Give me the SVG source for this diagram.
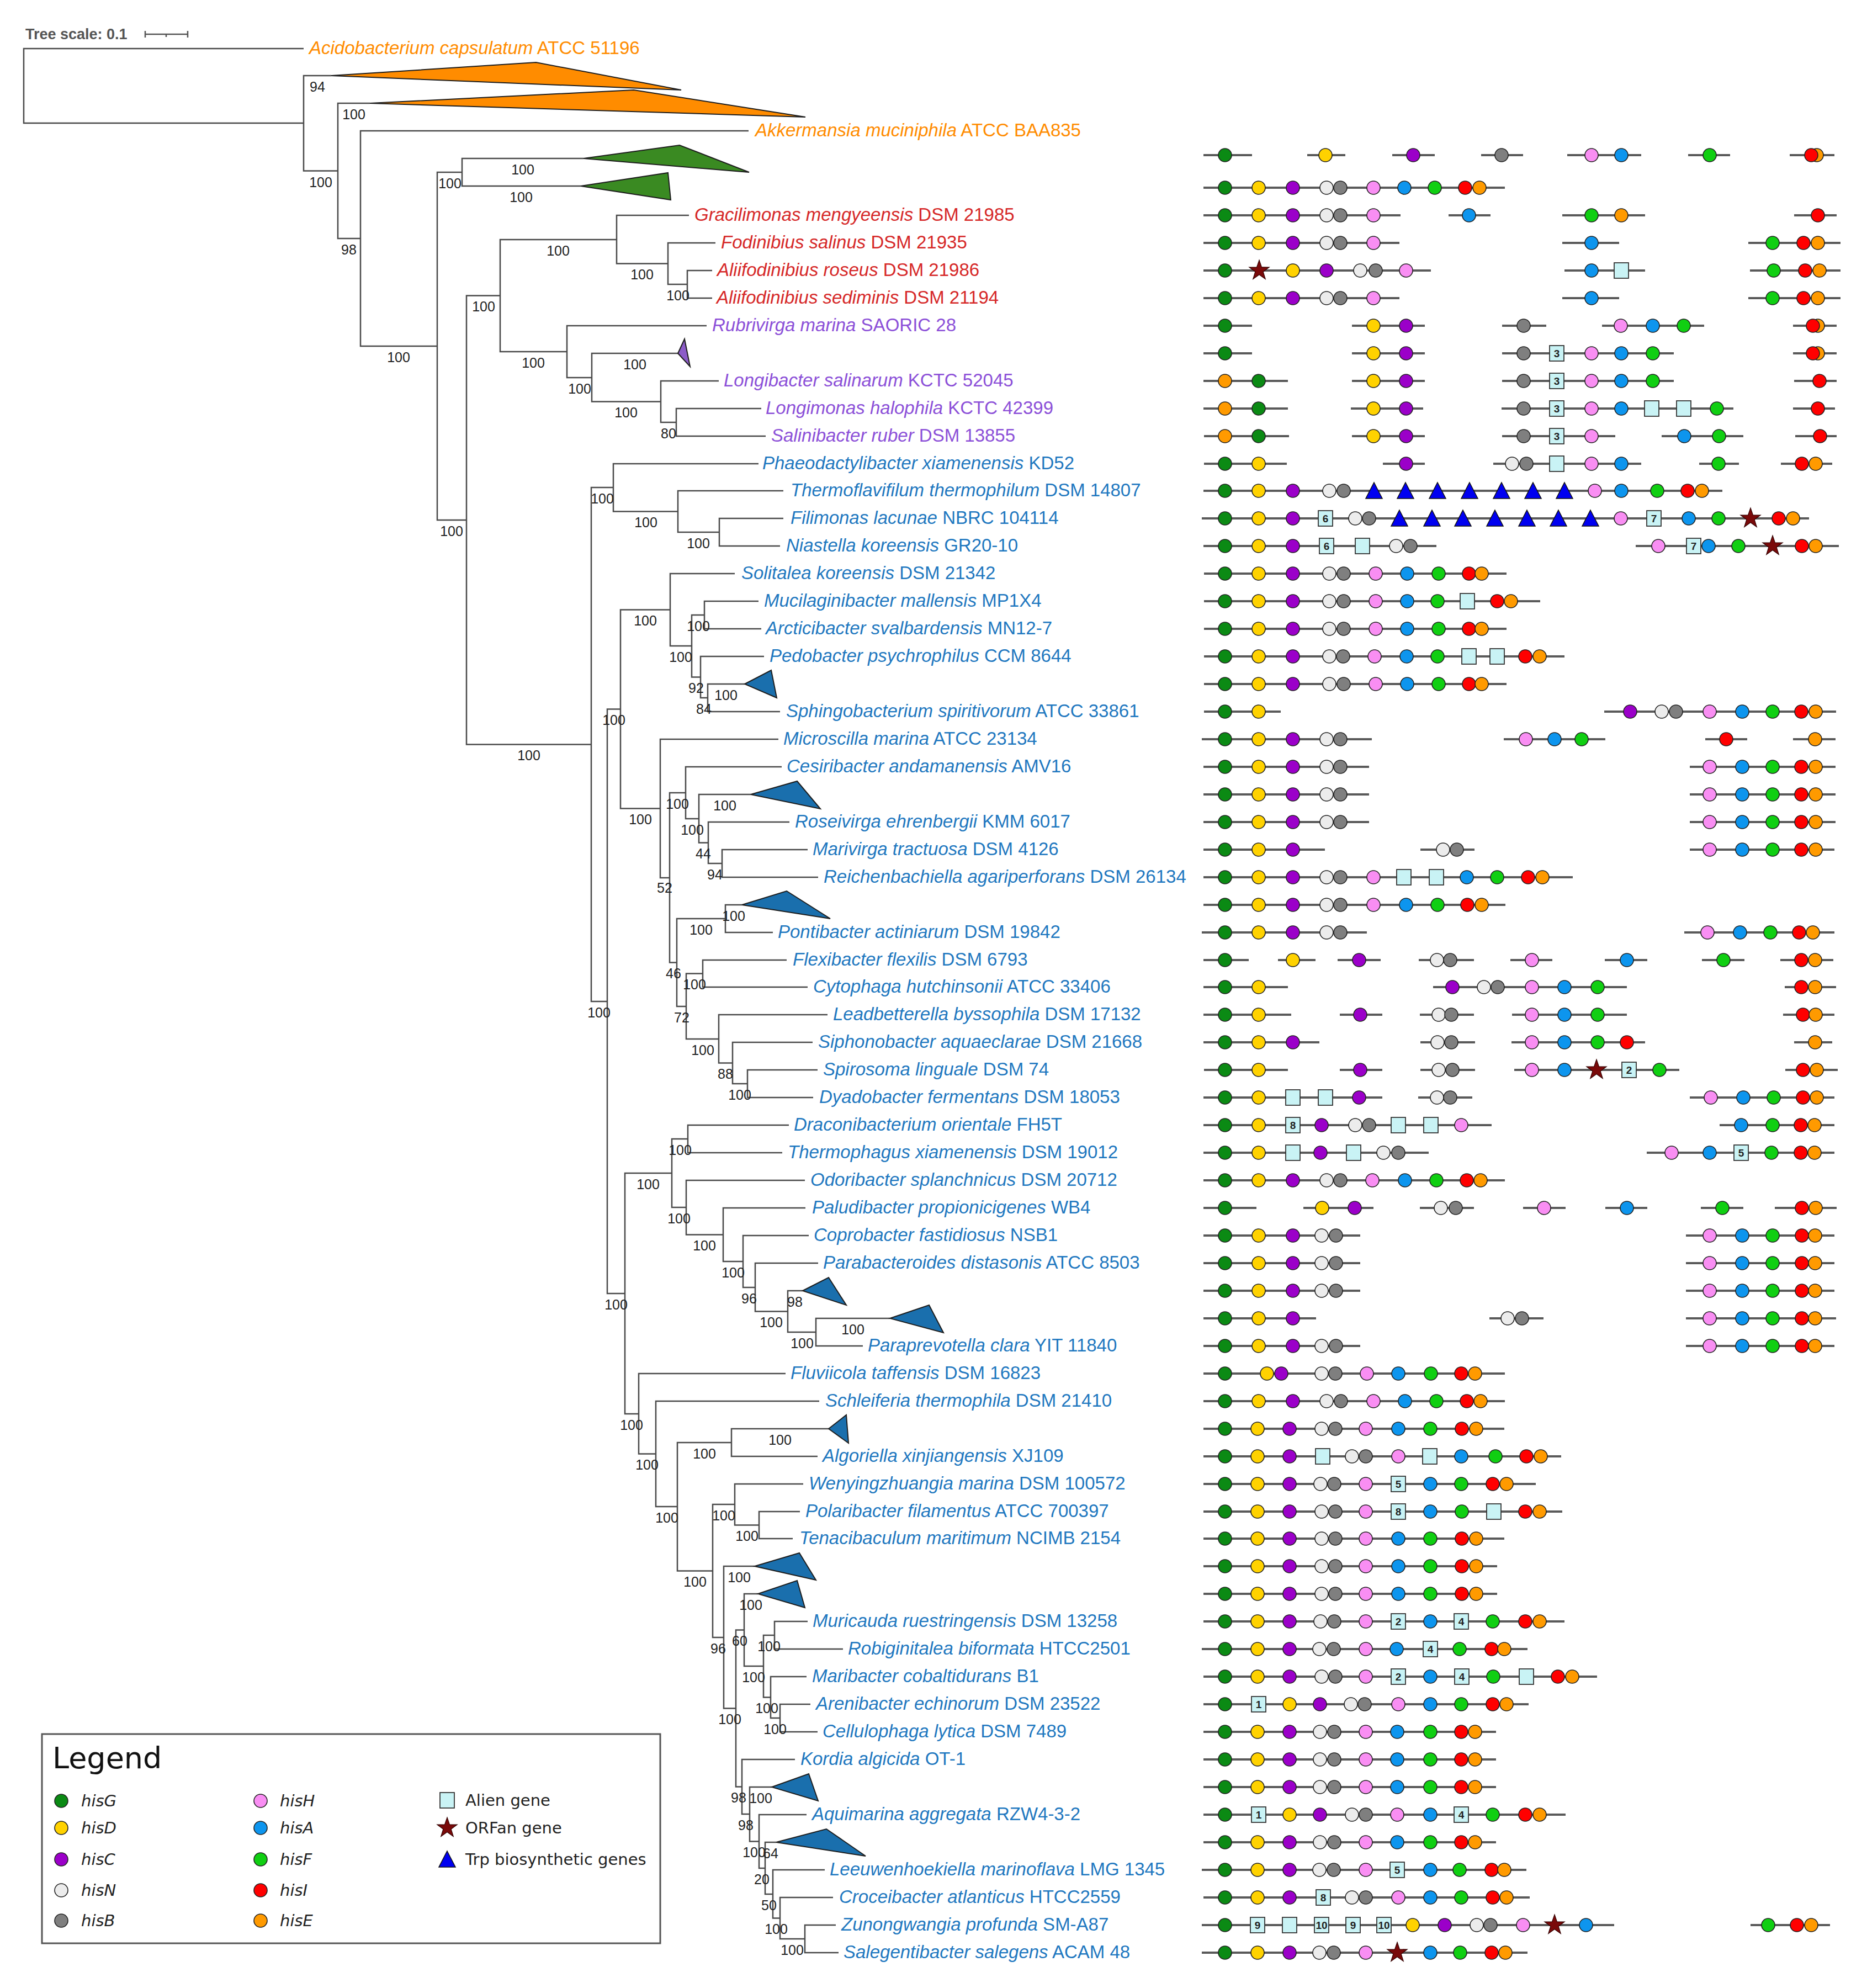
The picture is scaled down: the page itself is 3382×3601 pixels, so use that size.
<svg xmlns="http://www.w3.org/2000/svg" xmlns:xlink="http://www.w3.org/1999/xlink" width="3382" height="3601" viewBox="0 0 3382 3601">
<style>
.tr{fill:none;stroke:#4a4a4a;stroke-width:2.5}
.bs{font-family:"Liberation Sans",Arial,sans-serif;font-size:25px;fill:#222;text-anchor:middle}
.lb{font-family:"Liberation Sans",Arial,sans-serif;font-size:33px}
.i{font-style:italic}
.or{fill:#ff8c00}.rd{fill:#d62828}.pu{fill:#8c50d8}.bl{fill:#1f78c0}
.cl{stroke:#1e1e1e;stroke-width:2}
.ln{fill:none;stroke:#5a5a5a;stroke-width:4}
.n{font-family:"Liberation Sans",Arial,sans-serif;font-size:19px;font-weight:bold;fill:#222;text-anchor:middle}
.lg{font-family:"DejaVu Sans",sans-serif;font-size:29px;fill:#222}
</style>
<defs>
<circle id="G" r="12" fill="#0b8a14" stroke="#222" stroke-width="1.6"/>
<circle id="D" r="12" fill="#ffd200" stroke="#222" stroke-width="1.6"/>
<circle id="C" r="12" fill="#9b00c9" stroke="#222" stroke-width="1.6"/>
<circle id="N" r="12" fill="#ececec" stroke="#222" stroke-width="1.6"/>
<circle id="B" r="12" fill="#7f7f7f" stroke="#222" stroke-width="1.6"/>
<circle id="H" r="12" fill="#f98ef3" stroke="#222" stroke-width="1.6"/>
<circle id="A" r="12" fill="#0d95ee" stroke="#222" stroke-width="1.6"/>
<circle id="F" r="12" fill="#10cf12" stroke="#222" stroke-width="1.6"/>
<circle id="I" r="12" fill="#ff0000" stroke="#222" stroke-width="1.6"/>
<circle id="E" r="12" fill="#ff9a00" stroke="#222" stroke-width="1.6"/>
<rect id="S" x="-13" y="-14" width="26" height="28" fill="#c9f3f5" stroke="#333" stroke-width="1.8"/>
<polygon id="T" points="0,-15 15,14 -15,14" fill="#0000f0" stroke="#111" stroke-width="1.5"/>
<polygon id="R" points="0,-19 4.4,-6.1 18.1,-5.9 7.1,2.3 11.2,15.4 0,7.5 -11.2,15.4 -7.1,2.3 -18.1,-5.9 -4.4,-6.1" fill="#7a0a0a" stroke="#300" stroke-width="1.2"/>
</defs>
<rect width="3382" height="3601" fill="#fff"/>

<g id="tree-scale">
<text x="46" y="71" font-family="Liberation Sans, Arial, sans-serif" font-size="27" font-weight="bold" fill="#555">Tree scale: 0.1</text>
<path d="M263 62H340M263 56V68M340 56V68M301 62V67" stroke="#555" stroke-width="2.5" fill="none"/>
</g>

<g id="connectors" class="tr">
<path d="M550 88H43V223H550"/>
<path d="M600 137H550V309.5H612"/>
<path d="M670 187H612V432H653"/>
<path d="M1356 237H653V627H792"/>
<path d="M837 312H792V942H845"/>
<path d="M1057 287H837V337H1052"/>
<path d="M906 535.5H845V1348.5H1071"/>
<path d="M1117 434H906V637H1027"/>
<path d="M1248 390H1117V477.5H1210"/>
<path d="M1296 440H1210V515H1245"/>
<path d="M1290 490H1245V540H1290"/>
<path d="M1280 590H1027V684H1072"/>
<path d="M1228 640H1072V727.5H1197"/>
<path d="M1302 690H1197V765H1225"/>
<path d="M1379 740H1225V790H1387"/>
<path d="M1111 883H1071V1814H1100"/>
<path d="M1374 840H1111V926.5H1228"/>
<path d="M1419 889H1228V964H1303"/>
<path d="M1419 939H1303V989H1413"/>
<path d="M1124 1284.5H1100V2343H1132"/>
<path d="M1214 1104.5H1124V1464.5H1196"/>
<path d="M1331 1039H1214V1170H1253"/>
<path d="M1276 1114H1253V1226.5H1269"/>
<path d="M1374 1089H1276V1139H1379"/>
<path d="M1384 1189H1269V1264H1282"/>
<path d="M1349 1239H1282V1289H1413"/>
<path d="M1410 1339H1196V1590H1213"/>
<path d="M1242 1436H1213V1743.5H1226"/>
<path d="M1416 1389H1242V1483H1266"/>
<path d="M1360 1439H1266V1526.5H1283"/>
<path d="M1430 1489H1283V1564H1308"/>
<path d="M1463 1539H1308V1589H1482"/>
<path d="M1314 1664H1226V1823H1243"/>
<path d="M1344 1639H1314V1689H1400"/>
<path d="M1273 1763.5H1243V1882H1302"/>
<path d="M1425 1739H1273V1788H1463"/>
<path d="M1499 1838H1302V1925.5H1327"/>
<path d="M1472 1888H1327V1963H1354"/>
<path d="M1481 1938H1354V1988H1473"/>
<path d="M1217 2125H1132V2561H1157"/>
<path d="M1246 2063H1217V2187H1243"/>
<path d="M1429 2038H1246V2088H1417"/>
<path d="M1458 2138H1243V2236.5H1310"/>
<path d="M1459 2188H1310V2285H1346"/>
<path d="M1465 2238H1346V2332H1368"/>
<path d="M1482 2288H1368V2375.5H1427"/>
<path d="M1454 2338H1427V2413H1478"/>
<path d="M1612 2388H1478V2438H1563"/>
<path d="M1423 2488H1157V2633.5H1188"/>
<path d="M1484 2538H1188V2729H1227"/>
<path d="M1325 2613H1227V2845.5H1291"/>
<path d="M1501 2588H1325V2638H1481"/>
<path d="M1331 2725H1291V2966H1311"/>
<path d="M1455 2688H1331V2762.5H1375"/>
<path d="M1449 2738H1375V2787H1436"/>
<path d="M1367 2837H1311V3094.5H1333"/>
<path d="M1348 2952.5H1333V3236.5H1344"/>
<path d="M1373 2887H1348V3018H1383"/>
<path d="M1403 2962H1383V3074.5H1396"/>
<path d="M1463 2937H1403V2987H1527"/>
<path d="M1461 3037H1396V3112H1413"/>
<path d="M1468 3087H1413V3137H1481"/>
<path d="M1440 3187H1344V3286H1358"/>
<path d="M1398 3237H1358V3335.5H1375"/>
<path d="M1461 3287H1375V3384H1386"/>
<path d="M1406 3337H1386V3431H1400"/>
<path d="M1494 3387H1400V3474.5H1413"/>
<path d="M1509 3437H1413V3512H1458"/>
<path d="M1514 3487H1458V3537H1519"/>
</g>

<g id="collapsed-clades" class="cl">
<polygon id="clade-orange-1" points="600,137 971,113 1234,163" fill="#ff8c00"/>
<polygon id="clade-orange-2" points="670,187 1148,163 1459,212" fill="#ff8c00"/>
<polygon id="clade-green-1" points="1057,287 1231,263 1357,312" fill="#3a8a22"/>
<polygon id="clade-green-2" points="1052,337 1210,313 1215,362" fill="#3a8a22"/>
<polygon id="clade-purple-1" points="1228,640 1240,614 1250,664" fill="#8c5cc8"/>
<polygon id="clade-blue-19" points="1349,1239 1397,1214 1407,1264" fill="#1a6fad"/>
<polygon id="clade-blue-23" points="1360,1439 1444,1415 1486,1465" fill="#1a6fad"/>
<polygon id="clade-blue-27" points="1344,1639 1425,1614 1504,1664" fill="#1a6fad"/>
<polygon id="clade-blue-41" points="1454,2338 1501,2314 1533,2364" fill="#1a6fad"/>
<polygon id="clade-blue-42" points="1612,2388 1683,2364 1709,2414" fill="#1a6fad"/>
<polygon id="clade-blue-46" points="1501,2588 1533,2563 1537,2614" fill="#1a6fad"/>
<polygon id="clade-blue-51" points="1367,2837 1448,2813 1478,2862" fill="#1a6fad"/>
<polygon id="clade-blue-52" points="1373,2887 1444,2863 1458,2912" fill="#1a6fad"/>
<polygon id="clade-blue-59" points="1398,3237 1465,3213 1482,3262" fill="#1a6fad"/>
<polygon id="clade-blue-61" points="1406,3337 1497,3313 1568,3362" fill="#1a6fad"/>
</g>

<g id="bootstrap" class="bs">
<text x="575" y="166">94</text><text x="581" y="339">100</text><text x="641" y="216">100</text><text x="632" y="461">98</text>
<text x="722" y="656">100</text><text x="815" y="341">100</text><text x="947" y="316">100</text><text x="944" y="366">100</text>
<text x="818" y="971">100</text><text x="876" y="564">100</text><text x="1011" y="463">100</text><text x="1163" y="506">100</text>
<text x="1228" y="544">100</text><text x="966" y="666">100</text><text x="1050" y="713">100</text><text x="1150" y="669">100</text>
<text x="1134" y="756">100</text><text x="1211" y="794">80</text><text x="958" y="1377">100</text><text x="1091" y="912">100</text>
<text x="1170" y="955">100</text><text x="1265" y="993">100</text><text x="1085" y="1843">100</text><text x="1112" y="1313">100</text>
<text x="1169" y="1133">100</text><text x="1233" y="1199">100</text><text x="1265" y="1143">100</text><text x="1261" y="1255">92</text>
<text x="1275" y="1293">84</text><text x="1315" y="1268">100</text><text x="1160" y="1493">100</text><text x="1204" y="1617">52</text>
<text x="1227" y="1465">100</text><text x="1254" y="1512">100</text><text x="1313" y="1468">100</text><text x="1274" y="1555">44</text>
<text x="1295" y="1593">94</text><text x="1220" y="1772">46</text><text x="1270" y="1693">100</text><text x="1329" y="1668">100</text>
<text x="1235" y="1852">72</text><text x="1258" y="1792">100</text><text x="1273" y="1911">100</text><text x="1314" y="1954">88</text>
<text x="1340" y="1992">100</text><text x="1116" y="2372">100</text><text x="1174" y="2154">100</text><text x="1232" y="2092">100</text>
<text x="1230" y="2216">100</text><text x="1276" y="2265">100</text><text x="1328" y="2314">100</text><text x="1357" y="2361">96</text>
<text x="1397" y="2404">100</text><text x="1440" y="2367">98</text><text x="1453" y="2442">100</text><text x="1545" y="2417">100</text>
<text x="1144" y="2590">100</text><text x="1172" y="2662">100</text><text x="1208" y="2758">100</text><text x="1276" y="2642">100</text>
<text x="1413" y="2617">100</text><text x="1259" y="2874">100</text><text x="1311" y="2754">100</text><text x="1353" y="2791">100</text>
<text x="1301" y="2995">96</text><text x="1339" y="2866">100</text><text x="1322" y="3123">100</text><text x="1340" y="2981">60</text>
<text x="1360" y="2916">100</text><text x="1365" y="3047">100</text><text x="1393" y="2991">100</text><text x="1389" y="3103">100</text>
<text x="1404" y="3141">100</text><text x="1338" y="3265">98</text><text x="1378" y="3266">100</text><text x="1351" y="3315">98</text>
<text x="1366" y="3364">100</text><text x="1396" y="3366">64</text><text x="1380" y="3413">20</text><text x="1393" y="3460">50</text>
<text x="1406" y="3503">100</text><text x="1435" y="3541">100</text>
</g>

<g id="taxa" class="lb">
<g id="n-acidobacterium"><text x="560" y="98" class="lb or"><tspan class="i">Acidobacterium capsulatum</tspan> ATCC 51196</text></g>
<g id="n-akkermansia"><text x="1368" y="247" class="lb or"><tspan class="i">Akkermansia muciniphila</tspan> ATCC BAA835</text></g>
<g id="n-gracilimonas"><text x="1258" y="400" class="lb rd"><tspan class="i">Gracilimonas mengyeensis</tspan> DSM 21985</text></g>
<g id="n-fodinibius"><text x="1306" y="450" class="lb rd"><tspan class="i">Fodinibius salinus</tspan> DSM 21935</text></g>
<g id="n-aliifodinibius-r"><text x="1299" y="500" class="lb rd"><tspan class="i">Aliifodinibius roseus</tspan> DSM 21986</text></g>
<g id="n-aliifodinibius-s"><text x="1298" y="550" class="lb rd"><tspan class="i">Aliifodinibius sediminis</tspan> DSM 21194</text></g>
<g id="n-rubrivirga"><text x="1290" y="600" class="lb pu"><tspan class="i">Rubrivirga marina</tspan> SAORIC 28</text></g>
<g id="n-longibacter"><text x="1311" y="700" class="lb pu"><tspan class="i">Longibacter salinarum</tspan> KCTC 52045</text></g>
<g id="n-longimonas"><text x="1387" y="750" class="lb pu"><tspan class="i">Longimonas halophila</tspan> KCTC 42399</text></g>
<g id="n-salinibacter"><text x="1397" y="800" class="lb pu"><tspan class="i">Salinibacter ruber</tspan> DSM 13855</text></g>
<g id="n-phaeodactylibacter"><text x="1381" y="850" class="lb bl"><tspan class="i">Phaeodactylibacter xiamenensis</tspan> KD52</text></g>
<g id="n-thermoflavifilum"><text x="1432" y="899" class="lb bl"><tspan class="i">Thermoflavifilum thermophilum</tspan> DSM 14807</text></g>
<g id="n-filimonas"><text x="1432" y="949" class="lb bl"><tspan class="i">Filimonas lacunae</tspan> NBRC 104114</text></g>
<g id="n-niastella"><text x="1424" y="999" class="lb bl"><tspan class="i">Niastella koreensis</tspan> GR20-10</text></g>
<g id="n-solitalea"><text x="1343" y="1049" class="lb bl"><tspan class="i">Solitalea koreensis</tspan> DSM 21342</text></g>
<g id="n-mucilaginibacter"><text x="1384" y="1099" class="lb bl"><tspan class="i">Mucilaginibacter mallensis</tspan> MP1X4</text></g>
<g id="n-arcticibacter"><text x="1387" y="1149" class="lb bl"><tspan class="i">Arcticibacter svalbardensis</tspan> MN12-7</text></g>
<g id="n-pedobacter"><text x="1394" y="1199" class="lb bl"><tspan class="i">Pedobacter psychrophilus</tspan> CCM 8644</text></g>
<g id="n-sphingobacterium"><text x="1424" y="1299" class="lb bl"><tspan class="i">Sphingobacterium spiritivorum</tspan> ATCC 33861</text></g>
<g id="n-microscilla"><text x="1419" y="1349" class="lb bl"><tspan class="i">Microscilla marina</tspan> ATCC 23134</text></g>
<g id="n-cesiribacter"><text x="1425" y="1399" class="lb bl"><tspan class="i">Cesiribacter andamanensis</tspan> AMV16</text></g>
<g id="n-roseivirga"><text x="1440" y="1499" class="lb bl"><tspan class="i">Roseivirga ehrenbergii</tspan> KMM 6017</text></g>
<g id="n-marivirga"><text x="1472" y="1549" class="lb bl"><tspan class="i">Marivirga tractuosa</tspan> DSM 4126</text></g>
<g id="n-reichenbachiella"><text x="1492" y="1599" class="lb bl"><tspan class="i">Reichenbachiella agariperforans</tspan> DSM 26134</text></g>
<g id="n-pontibacter"><text x="1409" y="1699" class="lb bl"><tspan class="i">Pontibacter actiniarum</tspan> DSM 19842</text></g>
<g id="n-flexibacter"><text x="1436" y="1749" class="lb bl"><tspan class="i">Flexibacter flexilis</tspan> DSM 6793</text></g>
<g id="n-cytophaga"><text x="1473" y="1798" class="lb bl"><tspan class="i">Cytophaga hutchinsonii</tspan> ATCC 33406</text></g>
<g id="n-leadbetterella"><text x="1509" y="1848" class="lb bl"><tspan class="i">Leadbetterella byssophila</tspan> DSM 17132</text></g>
<g id="n-siphonobacter"><text x="1482" y="1898" class="lb bl"><tspan class="i">Siphonobacter aquaeclarae</tspan> DSM 21668</text></g>
<g id="n-spirosoma"><text x="1491" y="1948" class="lb bl"><tspan class="i">Spirosoma linguale</tspan> DSM 74</text></g>
<g id="n-dyadobacter"><text x="1484" y="1998" class="lb bl"><tspan class="i">Dyadobacter fermentans</tspan> DSM 18053</text></g>
<g id="n-draconibacterium"><text x="1438" y="2048" class="lb bl"><tspan class="i">Draconibacterium orientale</tspan> FH5T</text></g>
<g id="n-thermophagus"><text x="1427" y="2098" class="lb bl"><tspan class="i">Thermophagus xiamenensis</tspan> DSM 19012</text></g>
<g id="n-odoribacter"><text x="1468" y="2148" class="lb bl"><tspan class="i">Odoribacter splanchnicus</tspan> DSM 20712</text></g>
<g id="n-paludibacter"><text x="1471" y="2198" class="lb bl"><tspan class="i">Paludibacter propionicigenes</tspan> WB4</text></g>
<g id="n-coprobacter"><text x="1474" y="2248" class="lb bl"><tspan class="i">Coprobacter fastidiosus</tspan> NSB1</text></g>
<g id="n-parabacteroides"><text x="1491" y="2298" class="lb bl"><tspan class="i">Parabacteroides distasonis</tspan> ATCC 8503</text></g>
<g id="n-paraprevotella"><text x="1572" y="2448" class="lb bl"><tspan class="i">Paraprevotella clara</tspan> YIT 11840</text></g>
<g id="n-fluviicola"><text x="1432" y="2498" class="lb bl"><tspan class="i">Fluviicola taffensis</tspan> DSM 16823</text></g>
<g id="n-schleiferia"><text x="1495" y="2548" class="lb bl"><tspan class="i">Schleiferia thermophila</tspan> DSM 21410</text></g>
<g id="n-algoriella"><text x="1490" y="2648" class="lb bl"><tspan class="i">Algoriella xinjiangensis</tspan> XJ109</text></g>
<g id="n-wenyingzhuangia"><text x="1465" y="2698" class="lb bl"><tspan class="i">Wenyingzhuangia marina</tspan> DSM 100572</text></g>
<g id="n-polaribacter"><text x="1459" y="2748" class="lb bl"><tspan class="i">Polaribacter filamentus</tspan> ATCC 700397</text></g>
<g id="n-tenacibaculum"><text x="1448" y="2797" class="lb bl"><tspan class="i">Tenacibaculum maritimum</tspan> NCIMB 2154</text></g>
<g id="n-muricauda"><text x="1472" y="2947" class="lb bl"><tspan class="i">Muricauda ruestringensis</tspan> DSM 13258</text></g>
<g id="n-robiginitalea"><text x="1536" y="2997" class="lb bl"><tspan class="i">Robiginitalea biformata</tspan> HTCC2501</text></g>
<g id="n-maribacter"><text x="1471" y="3047" class="lb bl"><tspan class="i">Maribacter cobaltidurans</tspan> B1</text></g>
<g id="n-arenibacter"><text x="1478" y="3097" class="lb bl"><tspan class="i">Arenibacter echinorum</tspan> DSM 23522</text></g>
<g id="n-cellulophaga"><text x="1490" y="3147" class="lb bl"><tspan class="i">Cellulophaga lytica</tspan> DSM 7489</text></g>
<g id="n-kordia"><text x="1450" y="3197" class="lb bl"><tspan class="i">Kordia algicida</tspan> OT-1</text></g>
<g id="n-aquimarina"><text x="1471" y="3297" class="lb bl"><tspan class="i">Aquimarina aggregata</tspan> RZW4-3-2</text></g>
<g id="n-leeuwenhoekiella"><text x="1503" y="3397" class="lb bl"><tspan class="i">Leeuwenhoekiella marinoflava</tspan> LMG 1345</text></g>
<g id="n-croceibacter"><text x="1520" y="3447" class="lb bl"><tspan class="i">Croceibacter atlanticus</tspan> HTCC2559</text></g>
<g id="n-zunongwangia"><text x="1524" y="3497" class="lb bl"><tspan class="i">Zunongwangia profunda</tspan> SM-A87</text></g>
<g id="n-salegentibacter"><text x="1528" y="3547" class="lb bl"><tspan class="i">Salegentibacter salegens</tspan> ACAM 48</text></g>
</g>

<g id="gene-rows">
<g id="row-0" transform="translate(0,281)"><path class="ln" d="M2180 0H2268M2368 0H2437M2522 0H2599M2683 0H2759M2839 0H2973M3058 0H3134M3242 0H3323"/><use href="#G" x="2219"/><use href="#D" x="2401"/><use href="#C" x="2560"/><use href="#B" x="2720"/><use href="#H" x="2883"/><use href="#A" x="2937"/><use href="#F" x="3097"/><use href="#E" x="3291"/><use href="#I" x="3281"/></g>
<g id="row-1" transform="translate(0,340)"><path class="ln" d="M2180 0H2726"/><use href="#G" x="2219"/><use href="#D" x="2280"/><use href="#C" x="2342"/><use href="#N" x="2403"/><use href="#B" x="2428"/><use href="#H" x="2488"/><use href="#A" x="2544"/><use href="#F" x="2599"/><use href="#I" x="2654"/><use href="#E" x="2680"/></g>
<g id="row-2" transform="translate(0,390)"><path class="ln" d="M2180 0H2537M2624 0H2700M2830 0H2980M3250 0H3327"/><use href="#G" x="2219"/><use href="#D" x="2280"/><use href="#C" x="2342"/><use href="#N" x="2403"/><use href="#B" x="2428"/><use href="#H" x="2488"/><use href="#A" x="2661"/><use href="#F" x="2883"/><use href="#E" x="2937"/><use href="#I" x="3293"/></g>
<g id="row-3" transform="translate(0,440)"><path class="ln" d="M2180 0H2535M2830 0H2933M3167 0H3334"/><use href="#G" x="2219"/><use href="#D" x="2280"/><use href="#C" x="2342"/><use href="#N" x="2403"/><use href="#B" x="2428"/><use href="#H" x="2488"/><use href="#A" x="2883"/><use href="#F" x="3211"/><use href="#I" x="3267"/><use href="#E" x="3293"/></g>
<g id="row-4" transform="translate(0,490)"><path class="ln" d="M2180 0H2592M2834 0H2980M3170 0H3334"/><use href="#G" x="2219"/><use href="#R" x="2281"/><use href="#D" x="2342"/><use href="#C" x="2403"/><use href="#N" x="2464"/><use href="#B" x="2492"/><use href="#H" x="2547"/><use href="#A" x="2883"/><use href="#S" x="2937"/><use href="#F" x="3213"/><use href="#I" x="3270"/><use href="#E" x="3296"/></g>
<g id="row-5" transform="translate(0,540)"><path class="ln" d="M2180 0H2535M2830 0H2933M3167 0H3334"/><use href="#G" x="2219"/><use href="#D" x="2280"/><use href="#C" x="2342"/><use href="#N" x="2403"/><use href="#B" x="2428"/><use href="#H" x="2488"/><use href="#A" x="2883"/><use href="#F" x="3211"/><use href="#I" x="3267"/><use href="#E" x="3293"/></g>
<g id="row-6" transform="translate(0,590)"><path class="ln" d="M2180 0H2268M2449 0H2581M2721 0H2801M2902 0H3087M3248 0H3327"/><use href="#G" x="2219"/><use href="#D" x="2488"/><use href="#C" x="2547"/><use href="#B" x="2760"/><use href="#H" x="2936"/><use href="#A" x="2994"/><use href="#F" x="3050"/><use href="#E" x="3293"/><use href="#I" x="3284"/></g>
<g id="row-7" transform="translate(0,640)"><path class="ln" d="M2180 0H2268M2449 0H2581M2721 0H3032M3248 0H3327"/><use href="#G" x="2219"/><use href="#D" x="2488"/><use href="#C" x="2547"/><use href="#B" x="2760"/><use href="#S" x="2820"/><text class="n" x="2820" y="7">3</text><use href="#H" x="2883"/><use href="#A" x="2937"/><use href="#F" x="2994"/><use href="#E" x="3293"/><use href="#I" x="3284"/></g>
<g id="row-8" transform="translate(0,690)"><path class="ln" d="M2180 0H2333M2449 0H2581M2721 0H3032M3250 0H3327"/><use href="#E" x="2219"/><use href="#G" x="2280"/><use href="#D" x="2488"/><use href="#C" x="2547"/><use href="#B" x="2760"/><use href="#S" x="2820"/><text class="n" x="2820" y="7">3</text><use href="#H" x="2883"/><use href="#A" x="2937"/><use href="#F" x="2994"/><use href="#I" x="3296"/></g>
<g id="row-9" transform="translate(0,740)"><path class="ln" d="M2180 0H2333M2447 0H2578M2720 0H3140M3248 0H3324"/><use href="#E" x="2219"/><use href="#G" x="2280"/><use href="#D" x="2488"/><use href="#C" x="2547"/><use href="#B" x="2760"/><use href="#S" x="2820"/><text class="n" x="2820" y="7">3</text><use href="#H" x="2883"/><use href="#A" x="2937"/><use href="#S" x="2992"/><use href="#S" x="3050"/><use href="#F" x="3110"/><use href="#I" x="3293"/></g>
<g id="row-10" transform="translate(0,790)"><path class="ln" d="M2181 0H2335M2449 0H2581M2721 0H2926M3010 0H3158M3252 0H3327"/><use href="#E" x="2219"/><use href="#G" x="2280"/><use href="#D" x="2488"/><use href="#C" x="2547"/><use href="#B" x="2760"/><use href="#S" x="2820"/><text class="n" x="2820" y="7">3</text><use href="#H" x="2883"/><use href="#A" x="3051"/><use href="#F" x="3114"/><use href="#I" x="3297"/></g>
<g id="row-11" transform="translate(0,840)"><path class="ln" d="M2181 0H2331M2505 0H2581M2705 0H2973M3078 0H3150M3226 0H3319"/><use href="#G" x="2219"/><use href="#D" x="2280"/><use href="#C" x="2547"/><use href="#N" x="2739"/><use href="#B" x="2765"/><use href="#S" x="2820"/><use href="#H" x="2883"/><use href="#A" x="2937"/><use href="#F" x="3113"/><use href="#I" x="3264"/><use href="#E" x="3289"/></g>
<g id="row-12" transform="translate(0,889)"><path class="ln" d="M2180 0H3120"/><use href="#G" x="2219"/><use href="#D" x="2280"/><use href="#C" x="2342"/><use href="#N" x="2408"/><use href="#B" x="2434"/><use href="#T" x="2489"/><use href="#T" x="2546"/><use href="#T" x="2604"/><use href="#T" x="2662"/><use href="#T" x="2720"/><use href="#T" x="2777"/><use href="#T" x="2834"/><use href="#H" x="2889"/><use href="#A" x="2937"/><use href="#F" x="3002"/><use href="#I" x="3057"/><use href="#E" x="3083"/></g>
<g id="row-13" transform="translate(0,939)"><path class="ln" d="M2177 0H3277"/><use href="#G" x="2219"/><use href="#D" x="2280"/><use href="#C" x="2342"/><use href="#S" x="2401"/><text class="n" x="2401" y="7">6</text><use href="#N" x="2455"/><use href="#B" x="2480"/><use href="#T" x="2535"/><use href="#T" x="2594"/><use href="#T" x="2650"/><use href="#T" x="2708"/><use href="#T" x="2766"/><use href="#T" x="2823"/><use href="#T" x="2881"/><use href="#H" x="2936"/><use href="#S" x="2996"/><text class="n" x="2996" y="7">7</text><use href="#A" x="3059"/><use href="#F" x="3113"/><use href="#R" x="3171"/><use href="#I" x="3222"/><use href="#E" x="3248"/></g>
<g id="row-14" transform="translate(0,989)"><path class="ln" d="M2180 0H2602M2963 0H3331"/><use href="#G" x="2219"/><use href="#D" x="2280"/><use href="#C" x="2342"/><use href="#S" x="2403"/><text class="n" x="2403" y="7">6</text><use href="#S" x="2468"/><use href="#N" x="2529"/><use href="#B" x="2555"/><use href="#H" x="3004"/><use href="#S" x="3068"/><text class="n" x="3068" y="7">7</text><use href="#A" x="3095"/><use href="#F" x="3149"/><use href="#R" x="3211"/><use href="#I" x="3264"/><use href="#E" x="3289"/></g>
<g id="row-15" transform="translate(0,1039)"><path class="ln" d="M2181 0H2729"/><use href="#G" x="2219"/><use href="#D" x="2280"/><use href="#C" x="2342"/><use href="#N" x="2408"/><use href="#B" x="2434"/><use href="#H" x="2492"/><use href="#A" x="2549"/><use href="#F" x="2606"/><use href="#I" x="2661"/><use href="#E" x="2684"/></g>
<g id="row-16" transform="translate(0,1089)"><path class="ln" d="M2181 0H2790"/><use href="#G" x="2219"/><use href="#D" x="2280"/><use href="#C" x="2342"/><use href="#N" x="2408"/><use href="#B" x="2434"/><use href="#H" x="2492"/><use href="#A" x="2549"/><use href="#F" x="2604"/><use href="#S" x="2658"/><use href="#I" x="2712"/><use href="#E" x="2737"/></g>
<g id="row-17" transform="translate(0,1139)"><path class="ln" d="M2181 0H2729"/><use href="#G" x="2219"/><use href="#D" x="2280"/><use href="#C" x="2342"/><use href="#N" x="2408"/><use href="#B" x="2434"/><use href="#H" x="2492"/><use href="#A" x="2549"/><use href="#F" x="2606"/><use href="#I" x="2661"/><use href="#E" x="2684"/></g>
<g id="row-18" transform="translate(0,1189)"><path class="ln" d="M2181 0H2834"/><use href="#G" x="2219"/><use href="#D" x="2280"/><use href="#C" x="2342"/><use href="#N" x="2408"/><use href="#B" x="2433"/><use href="#H" x="2490"/><use href="#A" x="2548"/><use href="#F" x="2604"/><use href="#S" x="2661"/><use href="#S" x="2712"/><use href="#I" x="2763"/><use href="#E" x="2789"/></g>
<g id="row-19" transform="translate(0,1239)"><path class="ln" d="M2181 0H2729"/><use href="#G" x="2219"/><use href="#D" x="2280"/><use href="#C" x="2342"/><use href="#N" x="2408"/><use href="#B" x="2434"/><use href="#H" x="2492"/><use href="#A" x="2549"/><use href="#F" x="2606"/><use href="#I" x="2661"/><use href="#E" x="2684"/></g>
<g id="row-20" transform="translate(0,1289)"><path class="ln" d="M2181 0H2320M2906 0H3326"/><use href="#G" x="2219"/><use href="#D" x="2280"/><use href="#C" x="2953"/><use href="#N" x="3010"/><use href="#B" x="3036"/><use href="#H" x="3097"/><use href="#A" x="3156"/><use href="#F" x="3211"/><use href="#I" x="3263"/><use href="#E" x="3289"/></g>
<g id="row-21" transform="translate(0,1339)"><path class="ln" d="M2177 0H2485M2724 0H2908M3089 0H3165M3248 0H3325"/><use href="#G" x="2219"/><use href="#D" x="2280"/><use href="#C" x="2342"/><use href="#N" x="2403"/><use href="#B" x="2428"/><use href="#H" x="2764"/><use href="#A" x="2816"/><use href="#F" x="2865"/><use href="#I" x="3127"/><use href="#E" x="3288"/></g>
<g id="row-22" transform="translate(0,1389)"><path class="ln" d="M2180 0H2480M3061 0H3325"/><use href="#G" x="2219"/><use href="#D" x="2280"/><use href="#C" x="2342"/><use href="#N" x="2403"/><use href="#B" x="2428"/><use href="#H" x="3097"/><use href="#A" x="3156"/><use href="#F" x="3211"/><use href="#I" x="3263"/><use href="#E" x="3289"/></g>
<g id="row-23" transform="translate(0,1439)"><path class="ln" d="M2180 0H2480M3061 0H3325"/><use href="#G" x="2219"/><use href="#D" x="2280"/><use href="#C" x="2342"/><use href="#N" x="2403"/><use href="#B" x="2428"/><use href="#H" x="3097"/><use href="#A" x="3156"/><use href="#F" x="3211"/><use href="#I" x="3263"/><use href="#E" x="3289"/></g>
<g id="row-24" transform="translate(0,1489)"><path class="ln" d="M2180 0H2480M3061 0H3325"/><use href="#G" x="2219"/><use href="#D" x="2280"/><use href="#C" x="2342"/><use href="#N" x="2403"/><use href="#B" x="2428"/><use href="#H" x="3097"/><use href="#A" x="3156"/><use href="#F" x="3211"/><use href="#I" x="3263"/><use href="#E" x="3289"/></g>
<g id="row-25" transform="translate(0,1539)"><path class="ln" d="M2180 0H2400M2573 0H2671M3061 0H3323"/><use href="#G" x="2219"/><use href="#D" x="2280"/><use href="#C" x="2342"/><use href="#N" x="2614"/><use href="#B" x="2639"/><use href="#H" x="3097"/><use href="#A" x="3156"/><use href="#F" x="3211"/><use href="#I" x="3263"/><use href="#E" x="3289"/></g>
<g id="row-26" transform="translate(0,1589)"><path class="ln" d="M2180 0H2849"/><use href="#G" x="2219"/><use href="#D" x="2280"/><use href="#C" x="2342"/><use href="#N" x="2403"/><use href="#B" x="2428"/><use href="#H" x="2488"/><use href="#S" x="2543"/><use href="#S" x="2602"/><use href="#A" x="2657"/><use href="#F" x="2712"/><use href="#I" x="2768"/><use href="#E" x="2794"/></g>
<g id="row-27" transform="translate(0,1639)"><path class="ln" d="M2180 0H2727"/><use href="#G" x="2219"/><use href="#D" x="2280"/><use href="#C" x="2342"/><use href="#N" x="2403"/><use href="#B" x="2428"/><use href="#H" x="2488"/><use href="#A" x="2547"/><use href="#F" x="2604"/><use href="#I" x="2658"/><use href="#E" x="2684"/></g>
<g id="row-28" transform="translate(0,1689)"><path class="ln" d="M2177 0H2476M3051 0H3323"/><use href="#G" x="2219"/><use href="#D" x="2280"/><use href="#C" x="2342"/><use href="#N" x="2403"/><use href="#B" x="2428"/><use href="#H" x="3093"/><use href="#A" x="3152"/><use href="#F" x="3207"/><use href="#I" x="3259"/><use href="#E" x="3284"/></g>
<g id="row-29" transform="translate(0,1739)"><path class="ln" d="M2180 0H2262M2315 0H2383M2423 0H2501M2570 0H2670M2736 0H2812M2907 0H2984M3083 0H3160M3225 0H3321"/><use href="#G" x="2219"/><use href="#D" x="2342"/><use href="#C" x="2462"/><use href="#N" x="2603"/><use href="#B" x="2627"/><use href="#H" x="2775"/><use href="#A" x="2947"/><use href="#F" x="3122"/><use href="#I" x="3263"/><use href="#E" x="3288"/></g>
<g id="row-30" transform="translate(0,1788)"><path class="ln" d="M2180 0H2333M2596 0H2947M3233 0H3326"/><use href="#G" x="2219"/><use href="#D" x="2280"/><use href="#C" x="2631"/><use href="#N" x="2688"/><use href="#B" x="2713"/><use href="#H" x="2775"/><use href="#A" x="2834"/><use href="#F" x="2894"/><use href="#I" x="3263"/><use href="#E" x="3288"/></g>
<g id="row-31" transform="translate(0,1838)"><path class="ln" d="M2180 0H2339M2427 0H2504M2572 0H2670M2739 0H2947M3230 0H3323"/><use href="#G" x="2219"/><use href="#D" x="2280"/><use href="#C" x="2464"/><use href="#N" x="2606"/><use href="#B" x="2629"/><use href="#H" x="2775"/><use href="#A" x="2834"/><use href="#F" x="2894"/><use href="#I" x="3266"/><use href="#E" x="3289"/></g>
<g id="row-32" transform="translate(0,1888)"><path class="ln" d="M2180 0H2390M2573 0H2672M2738 0H2980M3250 0H3319"/><use href="#G" x="2219"/><use href="#D" x="2280"/><use href="#C" x="2342"/><use href="#N" x="2604"/><use href="#B" x="2629"/><use href="#H" x="2775"/><use href="#A" x="2834"/><use href="#F" x="2894"/><use href="#I" x="2947"/><use href="#E" x="3288"/></g>
<g id="row-33" transform="translate(0,1938)"><path class="ln" d="M2181 0H2333M2427 0H2504M2573 0H2672M2743 0H3042M3234 0H3329"/><use href="#G" x="2219"/><use href="#D" x="2280"/><use href="#C" x="2464"/><use href="#N" x="2606"/><use href="#B" x="2631"/><use href="#H" x="2775"/><use href="#A" x="2834"/><use href="#R" x="2892"/><use href="#S" x="2951"/><text class="n" x="2951" y="7">2</text><use href="#F" x="3006"/><use href="#I" x="3266"/><use href="#E" x="3291"/></g>
<g id="row-34" transform="translate(0,1988)"><path class="ln" d="M2180 0H2504M2569 0H2667M3061 0H3323"/><use href="#G" x="2219"/><use href="#D" x="2280"/><use href="#S" x="2342"/><use href="#S" x="2401"/><use href="#C" x="2462"/><use href="#N" x="2603"/><use href="#B" x="2627"/><use href="#H" x="3099"/><use href="#A" x="3158"/><use href="#F" x="3213"/><use href="#I" x="3266"/><use href="#E" x="3291"/></g>
<g id="row-35" transform="translate(0,2038)"><path class="ln" d="M2180 0H2702M3115 0H3323"/><use href="#G" x="2219"/><use href="#D" x="2280"/><use href="#S" x="2342"/><text class="n" x="2342" y="7">8</text><use href="#C" x="2394"/><use href="#N" x="2455"/><use href="#B" x="2480"/><use href="#S" x="2533"/><use href="#S" x="2592"/><use href="#H" x="2647"/><use href="#A" x="3154"/><use href="#F" x="3211"/><use href="#I" x="3262"/><use href="#E" x="3287"/></g>
<g id="row-36" transform="translate(0,2088)"><path class="ln" d="M2180 0H2588M2983 0H3323"/><use href="#G" x="2219"/><use href="#D" x="2280"/><use href="#S" x="2342"/><use href="#C" x="2392"/><use href="#S" x="2452"/><use href="#N" x="2506"/><use href="#B" x="2533"/><use href="#H" x="3028"/><use href="#A" x="3097"/><use href="#S" x="3154"/><text class="n" x="3154" y="7">5</text><use href="#F" x="3209"/><use href="#I" x="3262"/><use href="#E" x="3287"/></g>
<g id="row-37" transform="translate(0,2138)"><path class="ln" d="M2180 0H2726"/><use href="#G" x="2219"/><use href="#D" x="2280"/><use href="#C" x="2342"/><use href="#N" x="2403"/><use href="#B" x="2428"/><use href="#H" x="2486"/><use href="#A" x="2545"/><use href="#F" x="2602"/><use href="#I" x="2657"/><use href="#E" x="2682"/></g>
<g id="row-38" transform="translate(0,2188)"><path class="ln" d="M2180 0H2276M2361 0H2488M2572 0H2670M2759 0H2836M2908 0H2984M3081 0H3158M3215 0H3327"/><use href="#G" x="2219"/><use href="#D" x="2395"/><use href="#C" x="2454"/><use href="#N" x="2610"/><use href="#B" x="2637"/><use href="#H" x="2797"/><use href="#A" x="2947"/><use href="#F" x="3120"/><use href="#I" x="3264"/><use href="#E" x="3289"/></g>
<g id="row-39" transform="translate(0,2238)"><path class="ln" d="M2180 0H2464M3054 0H3323"/><use href="#G" x="2219"/><use href="#D" x="2280"/><use href="#C" x="2342"/><use href="#N" x="2394"/><use href="#B" x="2420"/><use href="#H" x="3097"/><use href="#A" x="3156"/><use href="#F" x="3211"/><use href="#I" x="3264"/><use href="#E" x="3288"/></g>
<g id="row-40" transform="translate(0,2288)"><path class="ln" d="M2180 0H2464M3054 0H3323"/><use href="#G" x="2219"/><use href="#D" x="2280"/><use href="#C" x="2342"/><use href="#N" x="2394"/><use href="#B" x="2420"/><use href="#H" x="3097"/><use href="#A" x="3156"/><use href="#F" x="3211"/><use href="#I" x="3264"/><use href="#E" x="3288"/></g>
<g id="row-41" transform="translate(0,2338)"><path class="ln" d="M2180 0H2464M3054 0H3323"/><use href="#G" x="2219"/><use href="#D" x="2280"/><use href="#C" x="2342"/><use href="#N" x="2394"/><use href="#B" x="2420"/><use href="#H" x="3097"/><use href="#A" x="3156"/><use href="#F" x="3211"/><use href="#I" x="3264"/><use href="#E" x="3288"/></g>
<g id="row-42" transform="translate(0,2388)"><path class="ln" d="M2180 0H2384M2698 0H2796M3054 0H3326"/><use href="#G" x="2219"/><use href="#D" x="2280"/><use href="#C" x="2342"/><use href="#N" x="2731"/><use href="#B" x="2757"/><use href="#H" x="3097"/><use href="#A" x="3156"/><use href="#F" x="3211"/><use href="#I" x="3264"/><use href="#E" x="3288"/></g>
<g id="row-43" transform="translate(0,2438)"><path class="ln" d="M2180 0H2464M3054 0H3323"/><use href="#G" x="2219"/><use href="#D" x="2280"/><use href="#C" x="2342"/><use href="#N" x="2394"/><use href="#B" x="2420"/><use href="#H" x="3097"/><use href="#A" x="3156"/><use href="#F" x="3211"/><use href="#I" x="3264"/><use href="#E" x="3288"/></g>
<g id="row-44" transform="translate(0,2488)"><path class="ln" d="M2180 0H2726"/><use href="#G" x="2219"/><use href="#D" x="2295"/><use href="#C" x="2321"/><use href="#N" x="2394"/><use href="#B" x="2419"/><use href="#H" x="2476"/><use href="#A" x="2533"/><use href="#F" x="2592"/><use href="#I" x="2647"/><use href="#E" x="2672"/></g>
<g id="row-45" transform="translate(0,2538)"><path class="ln" d="M2180 0H2726"/><use href="#G" x="2219"/><use href="#D" x="2280"/><use href="#C" x="2342"/><use href="#N" x="2403"/><use href="#B" x="2429"/><use href="#H" x="2488"/><use href="#A" x="2545"/><use href="#F" x="2602"/><use href="#I" x="2657"/><use href="#E" x="2682"/></g>
<g id="row-46" transform="translate(0,2588)"><path class="ln" d="M2180 0H2725"/><use href="#G" x="2219"/><use href="#D" x="2278"/><use href="#C" x="2336"/><use href="#N" x="2394"/><use href="#B" x="2419"/><use href="#H" x="2474"/><use href="#A" x="2533"/><use href="#F" x="2591"/><use href="#I" x="2648"/><use href="#E" x="2674"/></g>
<g id="row-47" transform="translate(0,2638)"><path class="ln" d="M2180 0H2828"/><use href="#G" x="2219"/><use href="#D" x="2278"/><use href="#C" x="2336"/><use href="#S" x="2396"/><use href="#N" x="2449"/><use href="#B" x="2474"/><use href="#H" x="2533"/><use href="#S" x="2590"/><use href="#A" x="2647"/><use href="#F" x="2709"/><use href="#I" x="2765"/><use href="#E" x="2791"/></g>
<g id="row-48" transform="translate(0,2688)"><path class="ln" d="M2180 0H2782"/><use href="#G" x="2219"/><use href="#D" x="2278"/><use href="#C" x="2336"/><use href="#N" x="2392"/><use href="#B" x="2417"/><use href="#H" x="2474"/><use href="#S" x="2533"/><text class="n" x="2533" y="7">5</text><use href="#A" x="2591"/><use href="#F" x="2647"/><use href="#I" x="2704"/><use href="#E" x="2729"/></g>
<g id="row-49" transform="translate(0,2738)"><path class="ln" d="M2180 0H2830"/><use href="#G" x="2219"/><use href="#D" x="2278"/><use href="#C" x="2336"/><use href="#N" x="2394"/><use href="#B" x="2419"/><use href="#H" x="2474"/><use href="#S" x="2533"/><text class="n" x="2533" y="7">8</text><use href="#A" x="2591"/><use href="#F" x="2648"/><use href="#S" x="2706"/><use href="#I" x="2763"/><use href="#E" x="2789"/></g>
<g id="row-50" transform="translate(0,2787)"><path class="ln" d="M2180 0H2725"/><use href="#G" x="2219"/><use href="#D" x="2278"/><use href="#C" x="2336"/><use href="#N" x="2394"/><use href="#B" x="2419"/><use href="#H" x="2474"/><use href="#A" x="2533"/><use href="#F" x="2591"/><use href="#I" x="2648"/><use href="#E" x="2674"/></g>
<g id="row-51" transform="translate(0,2837)"><path class="ln" d="M2180 0H2712"/><use href="#G" x="2219"/><use href="#D" x="2278"/><use href="#C" x="2336"/><use href="#N" x="2394"/><use href="#B" x="2419"/><use href="#H" x="2474"/><use href="#A" x="2533"/><use href="#F" x="2591"/><use href="#I" x="2648"/><use href="#E" x="2674"/></g>
<g id="row-52" transform="translate(0,2887)"><path class="ln" d="M2180 0H2712"/><use href="#G" x="2219"/><use href="#D" x="2278"/><use href="#C" x="2336"/><use href="#N" x="2394"/><use href="#B" x="2419"/><use href="#H" x="2474"/><use href="#A" x="2533"/><use href="#F" x="2591"/><use href="#I" x="2648"/><use href="#E" x="2674"/></g>
<g id="row-53" transform="translate(0,2937)"><path class="ln" d="M2180 0H2834"/><use href="#G" x="2219"/><use href="#D" x="2278"/><use href="#C" x="2336"/><use href="#N" x="2392"/><use href="#B" x="2417"/><use href="#H" x="2474"/><use href="#S" x="2533"/><text class="n" x="2533" y="7">2</text><use href="#A" x="2591"/><use href="#S" x="2647"/><text class="n" x="2647" y="7">4</text><use href="#F" x="2704"/><use href="#I" x="2763"/><use href="#E" x="2789"/></g>
<g id="row-54" transform="translate(0,2987)"><path class="ln" d="M2177 0H2767"/><use href="#G" x="2219"/><use href="#D" x="2278"/><use href="#C" x="2336"/><use href="#N" x="2390"/><use href="#B" x="2416"/><use href="#H" x="2474"/><use href="#A" x="2530"/><use href="#S" x="2591"/><text class="n" x="2591" y="7">4</text><use href="#F" x="2644"/><use href="#I" x="2702"/><use href="#E" x="2725"/></g>
<g id="row-55" transform="translate(0,3037)"><path class="ln" d="M2180 0H2893"/><use href="#G" x="2219"/><use href="#D" x="2278"/><use href="#C" x="2336"/><use href="#N" x="2394"/><use href="#B" x="2419"/><use href="#H" x="2474"/><use href="#S" x="2533"/><text class="n" x="2533" y="7">2</text><use href="#A" x="2591"/><use href="#S" x="2648"/><text class="n" x="2648" y="7">4</text><use href="#F" x="2705"/><use href="#S" x="2765"/><use href="#I" x="2822"/><use href="#E" x="2848"/></g>
<g id="row-56" transform="translate(0,3087)"><path class="ln" d="M2180 0H2769"/><use href="#G" x="2219"/><use href="#S" x="2280"/><text class="n" x="2280" y="7">1</text><use href="#D" x="2336"/><use href="#C" x="2391"/><use href="#N" x="2447"/><use href="#B" x="2472"/><use href="#H" x="2533"/><use href="#A" x="2591"/><use href="#F" x="2647"/><use href="#I" x="2704"/><use href="#E" x="2729"/></g>
<g id="row-57" transform="translate(0,3137)"><path class="ln" d="M2180 0H2710"/><use href="#G" x="2219"/><use href="#D" x="2278"/><use href="#C" x="2336"/><use href="#N" x="2391"/><use href="#B" x="2417"/><use href="#H" x="2474"/><use href="#A" x="2531"/><use href="#F" x="2591"/><use href="#I" x="2647"/><use href="#E" x="2672"/></g>
<g id="row-58" transform="translate(0,3187)"><path class="ln" d="M2180 0H2710"/><use href="#G" x="2219"/><use href="#D" x="2278"/><use href="#C" x="2336"/><use href="#N" x="2391"/><use href="#B" x="2417"/><use href="#H" x="2474"/><use href="#A" x="2531"/><use href="#F" x="2591"/><use href="#I" x="2647"/><use href="#E" x="2672"/></g>
<g id="row-59" transform="translate(0,3237)"><path class="ln" d="M2180 0H2710"/><use href="#G" x="2219"/><use href="#D" x="2278"/><use href="#C" x="2336"/><use href="#N" x="2391"/><use href="#B" x="2417"/><use href="#H" x="2474"/><use href="#A" x="2531"/><use href="#F" x="2591"/><use href="#I" x="2647"/><use href="#E" x="2672"/></g>
<g id="row-60" transform="translate(0,3287)"><path class="ln" d="M2180 0H2836"/><use href="#G" x="2219"/><use href="#S" x="2280"/><text class="n" x="2280" y="7">1</text><use href="#D" x="2336"/><use href="#C" x="2391"/><use href="#N" x="2449"/><use href="#B" x="2474"/><use href="#H" x="2531"/><use href="#A" x="2591"/><use href="#S" x="2647"/><text class="n" x="2647" y="7">4</text><use href="#F" x="2704"/><use href="#I" x="2763"/><use href="#E" x="2789"/></g>
<g id="row-61" transform="translate(0,3337)"><path class="ln" d="M2180 0H2710"/><use href="#G" x="2219"/><use href="#D" x="2278"/><use href="#C" x="2336"/><use href="#N" x="2391"/><use href="#B" x="2417"/><use href="#H" x="2474"/><use href="#A" x="2531"/><use href="#F" x="2591"/><use href="#I" x="2647"/><use href="#E" x="2672"/></g>
<g id="row-62" transform="translate(0,3387)"><path class="ln" d="M2177 0H2765"/><use href="#G" x="2219"/><use href="#D" x="2278"/><use href="#C" x="2336"/><use href="#N" x="2390"/><use href="#B" x="2416"/><use href="#H" x="2474"/><use href="#S" x="2531"/><text class="n" x="2531" y="7">5</text><use href="#A" x="2591"/><use href="#F" x="2644"/><use href="#I" x="2702"/><use href="#E" x="2725"/></g>
<g id="row-63" transform="translate(0,3437)"><path class="ln" d="M2180 0H2771"/><use href="#G" x="2219"/><use href="#D" x="2278"/><use href="#C" x="2336"/><use href="#S" x="2397"/><text class="n" x="2397" y="7">8</text><use href="#N" x="2449"/><use href="#B" x="2474"/><use href="#H" x="2533"/><use href="#A" x="2591"/><use href="#F" x="2647"/><use href="#I" x="2704"/><use href="#E" x="2729"/></g>
<g id="row-64" transform="translate(0,3487)"><path class="ln" d="M2177 0H2924M3171 0H3315"/><use href="#G" x="2219"/><use href="#S" x="2278"/><text class="n" x="2278" y="7">9</text><use href="#S" x="2336"/><use href="#S" x="2394"/><text class="n" x="2394" y="7">10</text><use href="#S" x="2451"/><text class="n" x="2451" y="7">9</text><use href="#S" x="2507"/><text class="n" x="2507" y="7">10</text><use href="#D" x="2559"/><use href="#C" x="2617"/><use href="#N" x="2675"/><use href="#B" x="2700"/><use href="#H" x="2759"/><use href="#R" x="2816"/><use href="#A" x="2873"/><use href="#F" x="3203"/><use href="#I" x="3255"/><use href="#E" x="3281"/></g>
<g id="row-65" transform="translate(0,3537)"><path class="ln" d="M2177 0H2767"/><use href="#G" x="2219"/><use href="#D" x="2278"/><use href="#C" x="2336"/><use href="#N" x="2390"/><use href="#B" x="2416"/><use href="#H" x="2474"/><use href="#R" x="2531"/><use href="#A" x="2591"/><use href="#F" x="2645"/><use href="#I" x="2702"/><use href="#E" x="2727"/></g>
</g>

<g id="legend">
<rect x="76" y="3141" width="1120" height="379" fill="#fff" stroke="#555" stroke-width="3"/>
<text x="95" y="3203" font-family="DejaVu Sans, sans-serif" font-size="54" fill="#111">Legend</text>
<g id="legend-col1" class="lg">
<use href="#G" x="111" y="3262"/><text x="147" y="3272" class="i">hisG</text>
<use href="#D" x="111" y="3311"/><text x="147" y="3321" class="i">hisD</text>
<use href="#C" x="111" y="3368"/><text x="147" y="3378" class="i">hisC</text>
<use href="#N" x="111" y="3424"/><text x="147" y="3434" class="i">hisN</text>
<use href="#B" x="111" y="3479"/><text x="147" y="3489" class="i">hisB</text>
</g>
<g id="legend-col2" class="lg">
<use href="#H" x="472" y="3262"/><text x="507" y="3272" class="i">hisH</text>
<use href="#A" x="472" y="3311"/><text x="507" y="3321" class="i">hisA</text>
<use href="#F" x="472" y="3368"/><text x="507" y="3378" class="i">hisF</text>
<use href="#I" x="472" y="3424"/><text x="507" y="3434" class="i">hisI</text>
<use href="#E" x="472" y="3479"/><text x="507" y="3489" class="i">hisE</text>
</g>
<g id="legend-col3" class="lg">
<use href="#S" x="810" y="3261"/><text x="843" y="3271">Alien gene</text>
<use href="#R" x="810" y="3311"/><text x="843" y="3321">ORFan gene</text>
<use href="#T" x="810" y="3368"/><text x="843" y="3378">Trp biosynthetic genes</text>
</g>
</g>
</svg>
